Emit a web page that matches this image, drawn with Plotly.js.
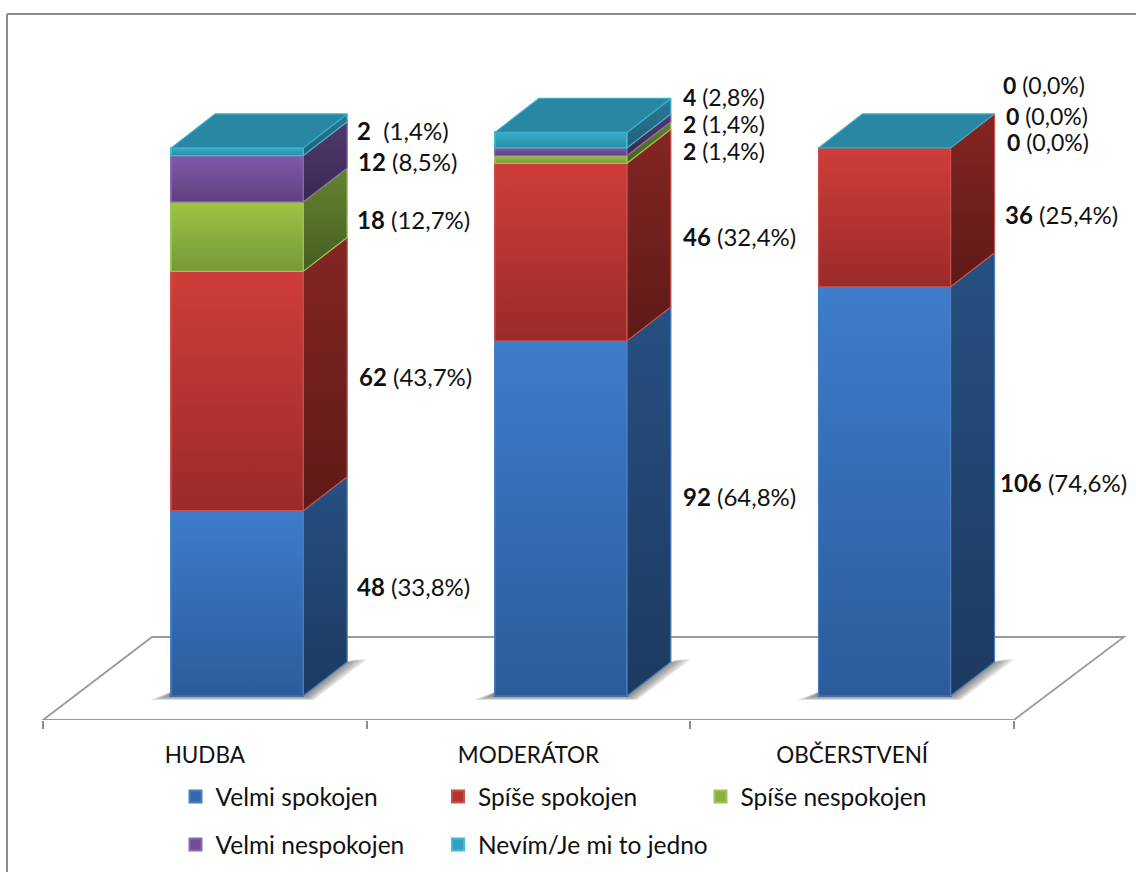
<!DOCTYPE html>
<html><head><meta charset="utf-8">
<script src="https://cdn.plot.ly/plotly-3.0.1.min.js"></script>
<style>html,body{margin:0;padding:0;background:#fff}#c{width:1136px;height:872px}</style></head>
<body><div id="c"></div>
<script>
// ---- data ----
const categories = ['HUDBA', 'MODERÁTOR', 'OBČERSTVENÍ'];
const seriesNames = ['Velmi spokojen', 'Spíše spokojen', 'Spíše nespokojen', 'Velmi nespokojen', 'Nevím/Je mi to jedno'];
const velmiSpokojen = [48, 92, 106];
const spiseSpokojen = [62, 46, 36];
const spiseNespokojen = [18, 2, 0];
const velmiNespokojen = [12, 2, 0];
const nevim = [2, 4, 0];
const pctVelmiSpokojen = ['33,8', '64,8', '74,6'];
const pctSpiseSpokojen = ['43,7', '32,4', '25,4'];
const pctSpiseNespokojen = ['12,7', '1,4', '0,0'];
const pctVelmiNespokojen = ['8,5', '1,4', '0,0'];
const pctNevim = ['1,4', '2,8', '0,0'];

const values = [velmiSpokojen, spiseSpokojen, spiseNespokojen, velmiNespokojen, nevim];
const pcts = [pctVelmiSpokojen, pctSpiseSpokojen, pctSpiseNespokojen, pctVelmiNespokojen, pctNevim];

// ---- styling / layout ----
const FONT = 'Lato, Carlito, "Open Sans", sans-serif';
const W = 1136, H = 872, plotBottom = 720;
const unitX = 323.67, unitY = 3.86;         // px per axis unit
const xLeft = -0.5 - 43 / unitX, xRight = 2.5 + 122 / unitX;
const yLow = -(720 - 696) / unitY, yHigh = 696 / unitY;
const barWidth = 132 / unitX, barShift = 0.1;
const depthX = 44 / unitX, depthY = 34 / unitY;
const frontColors = [['#2c5b9b', '#3d7dcb'], ['#9a2b29', '#cf3d39'], ['#76983a', '#9dc544'], ['#5f4080', '#8059a8'], ['#2b8ca5', '#35aecb']];
const sideColors = [['#1d3a60', '#265082'], ['#5e1a18', '#842623'], ['#455e22', '#648430'], ['#3a2850', '#503a6e'], ['#22607a', '#2a7a95']];
const edgeColors = ['#4a7fbf', '#c9504d', '#a0c455', '#8c68b4', '#45bad6'];
const baseColors = ['#3469b0', '#b63330', '#8cb040', '#704c96', '#30a0bc'];
// label nudges in px per [series][category]: [x, y up]
const nudge = [
  [[8, 0], [10, 5], [3, -8]],
  [[10, -2], [10, -1], [8, -14]],
  [[8, 0], [10, -9], [10, -11]],
  [[9, 0], [10, 11], [9, 15]],
  [[8, 4], [10, 26], [6, 46]]
];
// the closely packed labels of the last two columns are a touch smaller
const labelSize = [
  [24, 24, 24],
  [24, 24, 24],
  [24, 23, 23],
  [24, 23, 23],
  [24, 23, 23]
];

const legendOf = ['legend', 'legend', 'legend', 'legend2', 'legend3'];
const barTraces = seriesNames.map((name, s) => ({
  type: 'bar', name, x: [0, 1, 2], y: values[s],
  width: barWidth, offset: -barWidth / 2 + barShift,
  marker: {color: baseColors[s], line: {color: edgeColors[s], width: 2}},
  legend: legendOf[s], hoverinfo: 'x+y+name'
}));

function poly(xs, ys, colors, edge) {
  return {
    type: 'scatter', mode: 'lines', x: xs, y: ys, fill: 'toself',
    fillgradient: {type: 'vertical', colorscale: [[0, colors[0]], [1, colors[1]]]},
    line: {color: edge, width: 1.2},
    hoverinfo: 'skip', showlegend: false
  };
}

const shadowTraces = [], faceTraces = [], annotations = [];
const pxX = 1 / unitX, pxY = 1 / unitY;
categories.forEach((cat, c) => {
  const x0 = c + barShift - barWidth / 2, x1 = x0 + barWidth;
  [1, 0.8, 0.6, 0.4, 0.2].forEach(k => {
    shadowTraces.push({
      type: 'scatter', mode: 'none', fill: 'toself',
      x: [x0 - 21 * k * pxX, x0, x1, x1 + depthX, x1 + depthX + 20 * k * pxX, x1 + 10 * k * pxX],
      y: [-4 * k * pxY, 4 * pxY, 4 * pxY, depthY, depthY + 3 * pxY, -4 * k * pxY],
      fillcolor: 'rgba(70,70,70,0.17)', hoverinfo: 'skip', showlegend: false
    });
  });
  let cum = 0;
  values.forEach((vals, s) => {
    const v = vals[c], b = cum, t = cum + v;
    cum = t;
    if (v > 0) {
      faceTraces.push(poly([x1, x1 + depthX, x1 + depthX, x1, x1], [b, b + depthY, t + depthY, t, b], sideColors[s], edgeColors[s]));
      faceTraces.push(poly([x0, x1, x1, x0, x0], [b, b, t, t, b], frontColors[s], edgeColors[s]));
    }
    annotations.push({
      xref: 'x', yref: 'y', x: x1 + depthX, y: b + v / 2 + depthY / 2,
      xshift: nudge[s][c][0], yshift: nudge[s][c][1], xanchor: 'left', yanchor: 'middle', showarrow: false,
      text: '<b>' + v + '</b>' + (s === 4 && c === 0 ? '\u00a0\u00a0' : '\u00a0') + '(' + pcts[s][c] + '%)',
      font: {family: FONT, size: labelSize[s][c], color: '#111'}
    });
  });
  faceTraces.push(poly([x0, x1, x1 + depthX, x0 + depthX, x0], [cum, cum, cum + depthY, cum + depthY, cum], ['#2a87a4', '#2a87a4'], '#38b0cc'));
});

const floorPath = () => {
  const yFront = yLow, yBack = (696 - 637) / unitY;
  return `M${-0.5},${yFront} L${xLeft + 152 / unitX},${yBack} L${xLeft + 1124 / unitX},${yBack} L2.5,${yFront} Z`;
};

const legendCommon = {orientation: 'h', traceorder: 'normal', x: 175.5 / W, xanchor: 'left', yanchor: 'top', bgcolor: 'rgba(0,0,0,0)', font: {family: FONT, size: 24.5, color: '#111'}};

const layout = {
  width: W, height: H, margin: {l: 0, r: 0, t: 0, b: H - plotBottom, pad: 0},
  paper_bgcolor: '#fff', plot_bgcolor: 'rgba(0,0,0,0)', barmode: 'stack', bargap: 0,
  font: {family: FONT, color: '#111'},
  xaxis: {
    type: 'linear', range: [xLeft, xRight], showgrid: false, zeroline: false, showline: false,
    tickmode: 'array', tickvals: [0, 1, 2], ticktext: categories, ticks: '',
    tickfont: {family: FONT, size: 22.5, color: '#111'}, ticklabelstandoff: 19,
    minor: {tickmode: 'array', tickvals: [-0.5, 0.5, 1.5, 2.5], ticks: 'outside', ticklen: 8, tickwidth: 1.5, tickcolor: '#8c8c8c', showgrid: false}
  },
  yaxis: {range: [yLow, yHigh], visible: false},
  shapes: [
    {type: 'path', layer: 'below', xref: 'x', yref: 'y', path: floorPath(), line: {color: '#9a9a9a', width: 1.8}, fillcolor: '#fff'},
    {type: 'line', xref: 'paper', yref: 'paper', x0: 7 / W, x1: 7 / W, y0: 1 - 14 / plotBottom, y1: -(H - plotBottom) / plotBottom, line: {color: '#8c8c8c', width: 2}},
    {type: 'line', xref: 'paper', yref: 'paper', x0: 7 / W, x1: 1, y0: 1 - 14 / plotBottom, y1: 1 - 14 / plotBottom, line: {color: '#8c8c8c', width: 2}}
  ],
  legend: Object.assign({}, legendCommon, {y: 1 - 774 / plotBottom, entrywidth: 217.5, entrywidthmode: 'pixels'}),
  legend2: Object.assign({}, legendCommon, {y: 1 - 822 / plotBottom}),
  legend3: Object.assign({}, legendCommon, {x: (175.5 + 262.5) / W, y: 1 - 822 / plotBottom}),
  annotations,
  showlegend: true
};

Plotly.newPlot('c', barTraces.concat(shadowTraces, faceTraces), layout, {displayModeBar: false});
</script></body></html>
